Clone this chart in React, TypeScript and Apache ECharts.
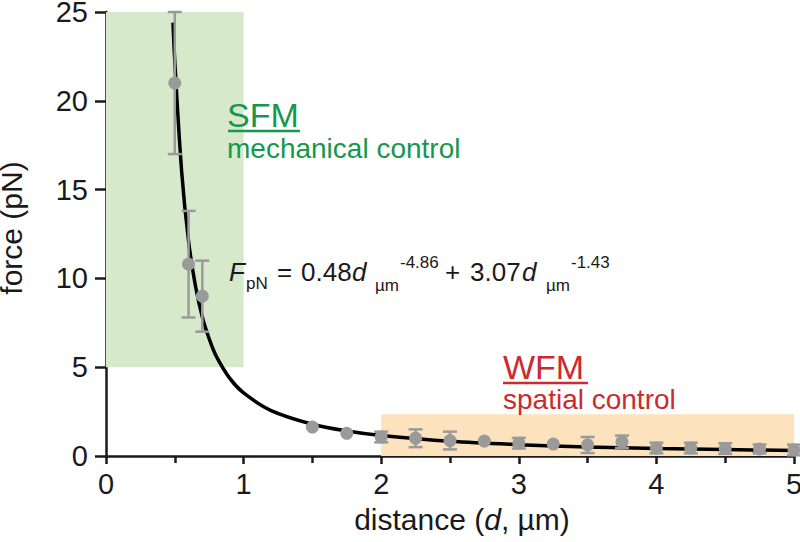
import React, { useEffect, useRef } from "react";
import * as echarts from "echarts";

// measured data points: distance (µm), force (pN), error (pN)
const distances = [0.5, 0.6, 0.7, 1.5, 1.75, 2.0, 2.25, 2.5, 2.75, 3.0, 3.25, 3.5, 3.75, 4.0, 4.25, 4.5, 4.75, 5.0];
const forces = [21.0, 10.8, 9.0, 1.63, 1.28, 1.07, 1.0, 0.87, 0.84, 0.72, 0.67, 0.62, 0.8, 0.45, 0.45, 0.42, 0.4, 0.34];
const errors = [4.0, 3.0, 2.0, 0, 0, 0.3, 0.5, 0.5, 0, 0.3, 0, 0.45, 0.35, 0.3, 0.3, 0.3, 0.25, 0.3];

// fitted curve
const curveD = [0.487, 0.5, 0.55, 0.6, 0.65, 0.7, 0.75, 0.8, 0.9, 1.0, 1.2, 1.5, 1.75, 2.0, 2.5, 3.0, 3.5, 4.0, 4.5, 5.0];
const curveF = [24.4, 22.2, 16.0, 12.1, 9.58, 7.83, 6.6, 5.64, 4.37, 3.55, 2.56, 1.79, 1.41, 1.16, 0.83, 0.64, 0.51, 0.42, 0.36, 0.31];

const xTicks = [0, 1, 2, 3, 4, 5];
const yTicks = [0, 5, 10, 15, 20, 25];

// shaded regions [x0, y0, x1, y1]
const sfmRegion = [0, 5, 1, 25];
const wfmRegion = [2, 0, 5, 2.35];

const FONT = "Liberation Sans, Arial, sans-serif";
const GREEN = "#17974b";
const RED = "#cc2a2f";
const GREY = "#9a9a9a";
const INK = "#1a1a1a";

export default function App() {
  const ref = useRef<HTMLDivElement>(null);
  useEffect(() => {
    if (!ref.current) return;
    const chart = echarts.init(ref.current, null, { renderer: "svg" });
    const points = distances.map((d, i) => [d, forces[i]]);
    const bars = distances.map((d, i) => [d, forces[i], errors[i]]).filter((r) => r[2] > 0);
    const curve = curveD.map((d, i) => [d, curveF[i]]);
    const eqY = 272;
    const subY = 285;
    const supY = 262;
    const txt = (x: number, y: number, t: string, fs: number, italic = false, color = INK) => ({
      type: "text",
      x,
      y,
      z: 50,
      silent: true,
      style: {
        text: t,
        fontSize: fs,
        lineHeight: Math.round(fs * 0.9),
        fontFamily: FONT,
        fontStyle: italic ? "italic" : "normal",
        fill: color,
        verticalAlign: "middle",
        align: "left",
      },
    });
    chart.setOption({
      animation: false,
      backgroundColor: "#ffffff",
      grid: { left: 106, right: 6, top: 12, bottom: 86, containLabel: false, outerBoundsMode: "none" },
      xAxis: {
        type: "value",
        min: 0,
        max: 5,
        interval: 1,
        name: "distance ({i|d}, µm)",
        nameLocation: "middle",
        nameGap: 48,
        nameTextStyle: {
          fontSize: 30,
          fontFamily: FONT,
          color: INK,
          padding: [0, 0, 0, 24],
          rich: { i: { fontSize: 30, fontFamily: FONT, fontStyle: "italic", color: INK } },
        },
        axisLine: { show: true, onZero: false, lineStyle: { color: INK, width: 2.5 } },
        axisTick: { show: true, length: 8, lineStyle: { color: INK, width: 2.5 } },
        minorTick: { show: true, splitNumber: 2, length: 7, lineStyle: { color: INK, width: 2.5 } },
        axisLabel: {
          fontSize: 29,
          fontFamily: FONT,
          color: INK,
          margin: 13,
          formatter: (v: number) => (xTicks.includes(v) ? String(v) : ""),
        },
        splitLine: { show: false },
      },
      yAxis: {
        type: "value",
        min: 0,
        max: 25,
        interval: 5,
        name: "force (pN)",
        nameLocation: "middle",
        nameGap: 80,
        nameTextStyle: { fontSize: 30, fontFamily: FONT, color: INK, padding: [0, 0, 0, 12] },
        axisLine: { show: true, onZero: false, lineStyle: { color: INK, width: 2.5 } },
        axisTick: { show: true, length: 11, lineStyle: { color: INK, width: 2.5 } },
        axisLabel: {
          fontSize: 29,
          fontFamily: FONT,
          color: INK,
          margin: 18,
          formatter: (v: number) => (yTicks.includes(v) ? String(v) : ""),
        },
        splitLine: { show: false },
      },
      series: [
        {
          type: "line",
          data: [],
          silent: true,
          markArea: {
            silent: true,
            data: [
              [
                { coord: [sfmRegion[0], sfmRegion[1]], itemStyle: { color: "#d6eacb" } },
                { coord: [sfmRegion[2], sfmRegion[3]] },
              ],
              [
                { coord: [wfmRegion[0], wfmRegion[1]], itemStyle: { color: "#fde3bd" } },
                { coord: [wfmRegion[2], wfmRegion[3]] },
              ],
            ],
          },
          z: 0,
        },
        {
          type: "line",
          data: curve,
          smooth: 0.35,
          showSymbol: false,
          symbol: "none",
          lineStyle: { color: "#000000", width: 3.5 },
          z: 2,
          silent: true,
        },
        {
          type: "custom",
          data: bars,
          z: 3,
          silent: true,
          renderItem: (params: any, api: any) => {
            const x = api.value(0);
            const y = api.value(1);
            const e = api.value(2);
            const top = api.coord([x, y + e]);
            const bot = api.coord([x, y - e]);
            const hw = 7;
            const st = { stroke: GREY, lineWidth: 2.5 };
            return {
              type: "group",
              children: [
                { type: "line", shape: { x1: top[0], y1: top[1], x2: bot[0], y2: bot[1] }, style: st },
                { type: "line", shape: { x1: top[0] - hw, y1: top[1], x2: top[0] + hw, y2: top[1] }, style: st },
                { type: "line", shape: { x1: bot[0] - hw, y1: bot[1], x2: bot[0] + hw, y2: bot[1] }, style: st },
              ],
            };
          },
        },
        {
          type: "scatter",
          data: points,
          symbol: "circle",
          symbolSize: 13,
          itemStyle: { color: GREY, opacity: 1 },
          z: 4,
          silent: true,
        },
      ],
      graphic: [
        txt(227, 115, "SFM", 34, false, GREEN),
        { type: "line", z: 50, silent: true, shape: { x1: 228, y1: 131, x2: 300, y2: 131 }, style: { stroke: GREEN, lineWidth: 2.5 } },
        txt(227, 148, "mechanical control", 28, false, GREEN),
        txt(503, 367, "WFM", 34, false, RED),
        { type: "line", z: 50, silent: true, shape: { x1: 503, y1: 383, x2: 588, y2: 383 }, style: { stroke: RED, lineWidth: 2.5 } },
        txt(503, 399, "spatial control", 28, false, RED),
        txt(229, eqY, "F", 26, true),
        txt(246, 283, "pN", 17),
        txt(277, eqY, "=", 26),
        txt(301, eqY, "0.48", 26),
        txt(352, eqY, "d", 26, true),
        txt(375, subY, "µm", 17),
        txt(400, supY, "-4.86", 17),
        txt(445, eqY, "+", 26),
        txt(470, eqY, "3.07", 26),
        txt(522, eqY, "d", 26, true),
        txt(546, subY, "µm", 17),
        txt(571, supY, "-1.43", 17),
      ],
    });
    return () => chart.dispose();
  }, []);
  return <div ref={ref} style={{ width: 800, height: 542, position: "absolute", left: 0, top: 0 }} />;
}
